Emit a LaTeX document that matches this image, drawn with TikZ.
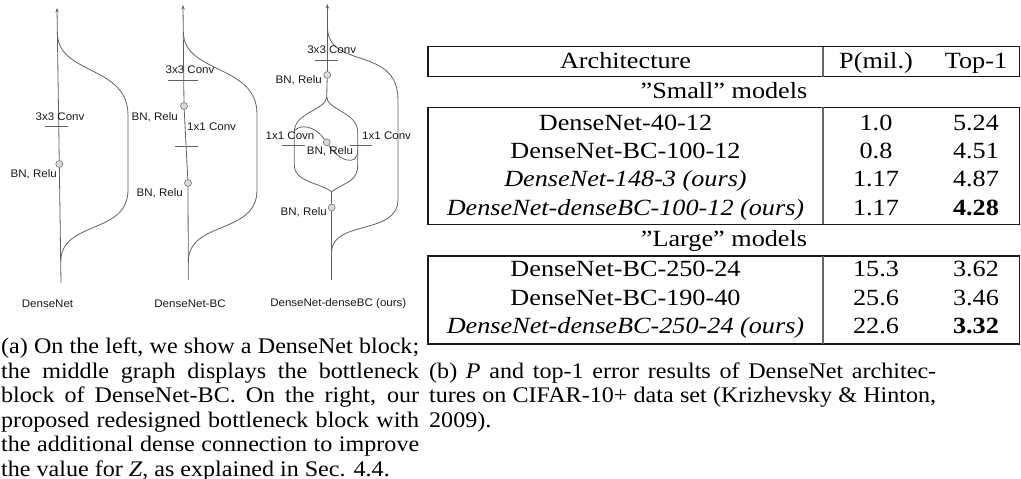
\documentclass[tikz,border=0pt]{standalone}
\usepackage{fontspec}
\setmainfont{Liberation Serif}[FakeStretch=1.08]
\newfontfamily\tabfont{Liberation Serif}[FakeStretch=1.13]
\newfontfamily\diagfont{Liberation Sans}[FakeStretch=1.05]
\usetikzlibrary{arrows.meta}
\begin{document}
\begin{tikzpicture}[x=1pt,y=-1pt,
  flow/.style={draw=black!62, line width=0.8pt},
  uparrow/.style={-{Stealth[length=4.5pt,width=3.4pt]}},
  act/.style={circle, draw=black!55, fill=black!15, line width=0.6pt, minimum size=7pt, inner sep=0pt},
  lbl/.style={font=\diagfont\fontsize{11}{13}\selectfont, inner sep=0pt, text=black!90},
  captext/.style={font=\fontsize{22.3}{24.5}\selectfont, inner sep=0pt, anchor=base west},
  tabtext/.style={font=\tabfont\fontsize{23.2}{28}\selectfont, inner sep=0pt, anchor=base},
  hrule/.style={draw=black!90, line width=1.1pt},
  vrule/.style={draw=black!60, line width=1.1pt},
]
\useasboundingbox (0,0) rectangle (1021,479);

% ---------- DenseNet block ----------
\coordinate (a-in) at (61,283);
\coordinate (a-out) at (57,8);
\coordinate (a-top) at (57.4,33);
\coordinate (a-bot) at (60.7,262);
\node[act] (a-bn) at (59.3,164) {};
\draw[flow] (a-in) -- (a-bn);
\draw[flow,uparrow] (a-bn) -- (a-out);
\draw[flow] (a-top) .. controls (57.4,75) and (128,65) .. (128,115)
  -- (128,190) .. controls (128,235) and (60.7,220) .. (a-bot);
\coordinate (a-cl) at (45,126);
\coordinate (a-cr) at (68,126);
\draw[flow] (a-cl) -- (a-cr);
\node[lbl] (a-conv) at (60,117) {3x3 Conv};
\node[lbl,anchor=east] (a-bnl) at (57,174) {BN, Relu};
\node[lbl] (a-name) at (47.5,304) {DenseNet};

% ---------- DenseNet-BC block ----------
\coordinate (b-in) at (188.3,280);
\coordinate (b-out) at (183,5);
\coordinate (b-top) at (183.4,32);
\coordinate (b-bot) at (188.3,262);
\node[act] (b-bn2) at (188,183) {};
\node[act] (b-bn1) at (184,106) {};
\draw[flow] (b-in) -- (b-bn2) -- (b-bn1);
\draw[flow,uparrow] (b-bn1) -- (b-out);
\draw[flow] (b-top) .. controls (183.4,74) and (257,64) .. (257,114)
  -- (257,190) .. controls (257,235) and (188.3,220) .. (b-bot);
\coordinate (b-c1l) at (168,80);
\coordinate (b-c1r) at (198,80);
\coordinate (b-c2l) at (175,146);
\coordinate (b-c2r) at (198,146);
\draw[flow] (b-c1l) -- (b-c1r);
\draw[flow] (b-c2l) -- (b-c2r);
\node[lbl] (b-conv3) at (190,70) {3x3 Conv};
\node[lbl,anchor=east] (b-bnl1) at (178,117) {BN, Relu};
\node[lbl,anchor=west] (b-conv1) at (187,127) {1x1 Conv};
\node[lbl,anchor=east] (b-bnl2) at (183,193) {BN, Relu};
\node[lbl] (b-name) at (190,304) {DenseNet-BC};

% ---------- DenseNet-denseBC block ----------
\coordinate (c-in) at (331.7,280);
\coordinate (c-out) at (327.3,4);
\coordinate (c-top) at (327.5,27);
\coordinate (c-bot) at (331.7,252);
\coordinate (c-split) at (326.7,96.7);
\coordinate (c-join) at (331.7,191.7);
\node[act] (c-bn1) at (327.3,75) {};
\node[act] (c-bn2) at (326.7,142.3) {};
\node[act] (c-bn3) at (331.7,207.5) {};
\draw[flow] (c-in) -- (c-bn3) -- (c-join);
\draw[flow] (c-split) -- (c-bn1);
\draw[flow,uparrow] (c-bn1) -- (c-out);
% outer dense connection
\draw[flow] (c-top) .. controls (327.5,70) and (398,45) .. (398,100)
  -- (398,200) .. controls (398,235) and (331.7,220) .. (c-bot);
% two parallel 1x1 branches
\draw[flow] (c-split) .. controls (326.7,110) and (294.3,112) .. (294.3,132)
  -- (294.3,165) .. controls (294.3,182) and (318,182) .. (c-join);
\draw[flow] (c-split) .. controls (326.7,110) and (357.7,112) .. (357.7,132)
  -- (357.7,165) .. controls (357.7,182) and (345,182) .. (c-join);
% cross connection between the branches
\coordinate (c-sa) at (294.3,131);
\coordinate (c-sb) at (357.7,150);
\draw[flow] (c-sa) .. controls (300,124) and (314,125) .. (c-bn2);
\draw[flow] (c-bn2) .. controls (338,160) and (357.7,168) .. (c-sb);
\coordinate (c-c3l) at (315,60);
\coordinate (c-c3r) at (338.3,60);
\coordinate (c-cll) at (281.7,145);
\coordinate (c-clr) at (305,145);
\coordinate (c-crl) at (350,145);
\coordinate (c-crr) at (371.7,145);
\draw[flow] (c-c3l) -- (c-c3r);
\draw[flow] (c-cll) -- (c-clr);
\draw[flow] (c-crl) -- (c-crr);
\node[lbl] (c-conv3) at (331.7,50) {3x3 Conv};
\node[lbl,anchor=east] (c-bnl1) at (322,80) {BN, Relu};
\node[lbl] (c-convl) at (290,136) {1x1 Covn};
\node[lbl,anchor=west] (c-convr) at (362,136) {1x1 Conv};
\node[lbl] (c-bnl2) at (330,151) {BN, Relu};
\node[lbl,anchor=east] (c-bnl3) at (327,212) {BN, Relu};
\node[lbl] (c-name) at (338.3,304) {DenseNet-denseBC (ours)};

% ---------- caption (a) ----------
\node[captext] (ca1) at (1,353.5) {\hbox to 418pt{(a) On the left, we show a DenseNet block;}};
\node[captext] (ca2) at (1,378) {\hbox to 418pt{the middle graph displays the bottleneck}};
\node[captext] (ca3) at (1,402.5) {\hbox to 418pt{block of DenseNet-BC. On the right, our}};
\node[captext] (ca4) at (1,427) {\hbox to 418pt{proposed redesigned bottleneck block with}};
\node[captext] (ca5) at (1,451.5) {\hbox to 418pt{the additional dense connection to improve}};
\node[captext] (ca6) at (1,476) {the value for \textit{Z}, as explained in Sec. 4.4.};

% ---------- results table ----------
\draw[hrule] (428,46.7) rectangle (1019.5,76.7);
\draw[vrule] (823,46.7) -- (823,76.7);
\draw[hrule] (428,107.3) rectangle (1019.5,224.3);
\draw[vrule] (823,107.3) -- (823,224.3);
\draw[hrule] (428,256) rectangle (1019.5,344);
\draw[vrule] (823,256) -- (823,344);

\node[tabtext] (h-arch) at (625.5,68) {Architecture};
\node[tabtext] (h-p) at (876,68) {P(mil.)};
\node[tabtext] (h-top) at (976,68) {Top-1};
\node[tabtext] (g-small) at (724,98.5) {”Small” models};
\node[tabtext] (r1-a) at (625.5,130) {DenseNet-40-12};
\node[tabtext] (r1-p) at (876,130) {1.0};
\node[tabtext] (r1-t) at (976,130) {5.24};
\node[tabtext] (r2-a) at (625.5,158.3) {DenseNet-BC-100-12};
\node[tabtext] (r2-p) at (876,158.3) {0.8};
\node[tabtext] (r2-t) at (976,158.3) {4.51};
\node[tabtext] (r3-a) at (625.5,186.6) {\textit{DenseNet-148-3 (ours)}};
\node[tabtext] (r3-p) at (876,186.6) {1.17};
\node[tabtext] (r3-t) at (976,186.6) {4.87};
\node[tabtext] (r4-a) at (625.5,215) {\textit{DenseNet-denseBC-100-12 (ours)}};
\node[tabtext] (r4-p) at (876,215) {1.17};
\node[tabtext] (r4-t) at (976,215) {\textbf{4.28}};
\node[tabtext] (g-large) at (724,246.7) {”Large” models};
\node[tabtext] (r5-a) at (625.5,276.6) {DenseNet-BC-250-24};
\node[tabtext] (r5-p) at (876,276.6) {15.3};
\node[tabtext] (r5-t) at (976,276.6) {3.62};
\node[tabtext] (r6-a) at (625.5,305) {DenseNet-BC-190-40};
\node[tabtext] (r6-p) at (876,305) {25.6};
\node[tabtext] (r6-t) at (976,305) {3.46};
\node[tabtext] (r7-a) at (625.5,333.3) {\textit{DenseNet-denseBC-250-24 (ours)}};
\node[tabtext] (r7-p) at (876,333.3) {22.6};
\node[tabtext] (r7-t) at (976,333.3) {\textbf{3.32}};

% ---------- caption (b) ----------
\node[captext] (cb1) at (429,378) {\hbox to 507pt{(b) \textit{P} and top-1 error results of DenseNet architec-}};
\node[captext] (cb2) at (429,402.5) {\hbox to 507pt{tures on CIFAR-10+ data set (Krizhevsky \& Hinton,}};
\node[captext] (cb3) at (429,427) {2009).};
\end{tikzpicture}
\end{document}
